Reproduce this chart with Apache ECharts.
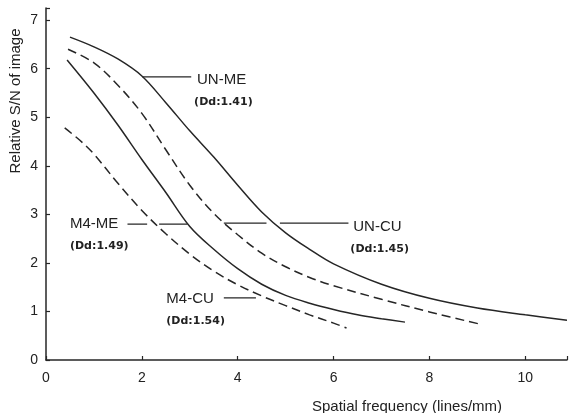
<!DOCTYPE html>
<html><head><meta charset="utf-8">
<script src="https://cdn.jsdelivr.net/npm/echarts@6/dist/echarts.min.js"></script>
<style>html,body{margin:0;padding:0;background:#fff}#c{width:570px;height:413px}</style>
</head><body><div id="c"></div>
<script>
// Curves (x: spatial frequency lines/mm, y: relative S/N)
const unME = [[0.5,6.65],[1.0,6.45],[1.5,6.2],[2.0,5.85],[2.5,5.3],[3.0,4.72],[3.5,4.18],[4.0,3.6],[4.5,3.05],[5.0,2.62],[5.5,2.28],[6.0,1.98],[7.0,1.56],[8.0,1.27],[9.0,1.07],[10.0,0.93],[10.87,0.82]];
const unCU = [[0.46,6.4],[1.0,6.12],[1.5,5.66],[2.0,5.08],[2.5,4.33],[3.0,3.6],[3.5,3.02],[4.0,2.58],[4.5,2.2],[5.0,1.92],[5.5,1.7],[6.0,1.53],[7.0,1.25],[8.0,0.99],[9.05,0.74]];
const m4ME = [[0.44,6.18],[1.0,5.5],[1.5,4.84],[2.0,4.13],[2.5,3.45],[3.0,2.75],[3.5,2.28],[4.0,1.88],[4.5,1.56],[5.0,1.33],[5.5,1.17],[6.0,1.04],[6.5,0.93],[7.0,0.85],[7.49,0.78]];
const m4CU = [[0.39,4.78],[0.7,4.53],[1.0,4.24],[1.5,3.64],[2.0,3.08],[2.5,2.6],[3.0,2.18],[3.5,1.83],[4.0,1.55],[4.5,1.32],[5.0,1.12],[5.5,0.93],[6.0,0.76],[6.27,0.66]];

// Leader lines (data coordinates)
const leaders = [
  [[2.01,5.83],[3.03,5.83]],
  [[3.71,2.82],[4.6,2.82]], [[4.88,2.82],[6.31,2.82]],
  [[1.70,2.80],[2.11,2.80]], [[2.36,2.80],[2.95,2.80]],
  [[3.71,1.28],[4.38,1.28]]
];
// Labels: [text, x, y, kind]
const labels = [
  ['UN-ME',3.15,5.77,'n'],['(Dd:1.41)',3.09,5.31,'d'],
  ['UN-CU',6.41,2.74,'n'],['(Dd:1.45)',6.35,2.29,'d'],
  ['M4-ME',0.5,2.80,'n'],['(Dd:1.49)',0.5,2.35,'d'],
  ['M4-CU',2.51,1.26,'n'],['(Dd:1.54)',2.51,0.80,'d']
];
const xTicks = {min:0, max:10.87, interval:2};
const yTicks = {min:0, max:7.25, interval:1};
const xTitle = 'Spatial frequency (lines/mm)';
const yTitle = 'Relative S/N of image';

const INK = '#262626';
const chart = echarts.init(document.getElementById('c'), null, {renderer:'canvas'});
function curve(data, dashed){
  return {type:'line', data, smooth:0.35, symbol:'none',
    lineStyle:{color:INK, width:1.5, type: dashed ? [9,5] : 'solid'}, silent:true, z:3};
}
const series = [curve(unME,false), curve(unCU,true), curve(m4ME,false), curve(m4CU,true)];
leaders.forEach(seg => series.push({type:'line', data:seg, symbol:'none', lineStyle:{color:INK,width:1.3}, silent:true, z:2}));

const fmt = v => Math.abs(v-Math.round(v))<1e-6 ? String(Math.round(v)) : '';
chart.setOption({
  animation:false,
  backgroundColor:'#fff',
  grid:{left:46, right:0, top:8, bottom:53},
  xAxis:{type:'value', min:xTicks.min, max:xTicks.max, interval:xTicks.interval,
    axisLine:{lineStyle:{color:INK,width:1.5}},
    axisTick:{inside:true,length:4,lineStyle:{color:INK,width:1.2}},
    axisLabel:{formatter:fmt, color:'#222', fontSize:14, fontFamily:'Liberation Sans', margin:11},
    splitLine:{show:false}},
  yAxis:{type:'value', min:yTicks.min, max:yTicks.max, interval:yTicks.interval,
    axisLine:{show:true,lineStyle:{color:INK,width:1.5}},
    axisTick:{show:true,inside:true,length:4,lineStyle:{color:INK,width:1.2}},
    axisLabel:{formatter:fmt, color:'#222', fontSize:14, fontFamily:'Liberation Sans', margin:8},
    splitLine:{show:false}},
  series
});

const g = [];
labels.forEach(([t,x,y,k]) => {
  const p = chart.convertToPixel({gridIndex:0},[x,y]);
  g.push({type:'text', x:p[0], y:p[1], silent:true,
    style: k==='n'
      ? {text:t, fill:'#222', font:'15px "Liberation Sans"', verticalAlign:'middle'}
      : {text:t, fill:'#222', font:'bold 11px "DejaVu Sans"', verticalAlign:'middle'}});
});
g.push({type:'text', x:407, y:407, silent:true, style:{text:xTitle, fill:'#222', font:'15px "Liberation Sans"', align:'center', verticalAlign:'middle'}});
g.push({type:'text', x:16, y:101, rotation:Math.PI/2, silent:true, style:{text:yTitle, fill:'#222', font:'15px "Liberation Sans"', align:'center', verticalAlign:'middle'}});
chart.setOption({graphic:g});
</script>
</body></html>
